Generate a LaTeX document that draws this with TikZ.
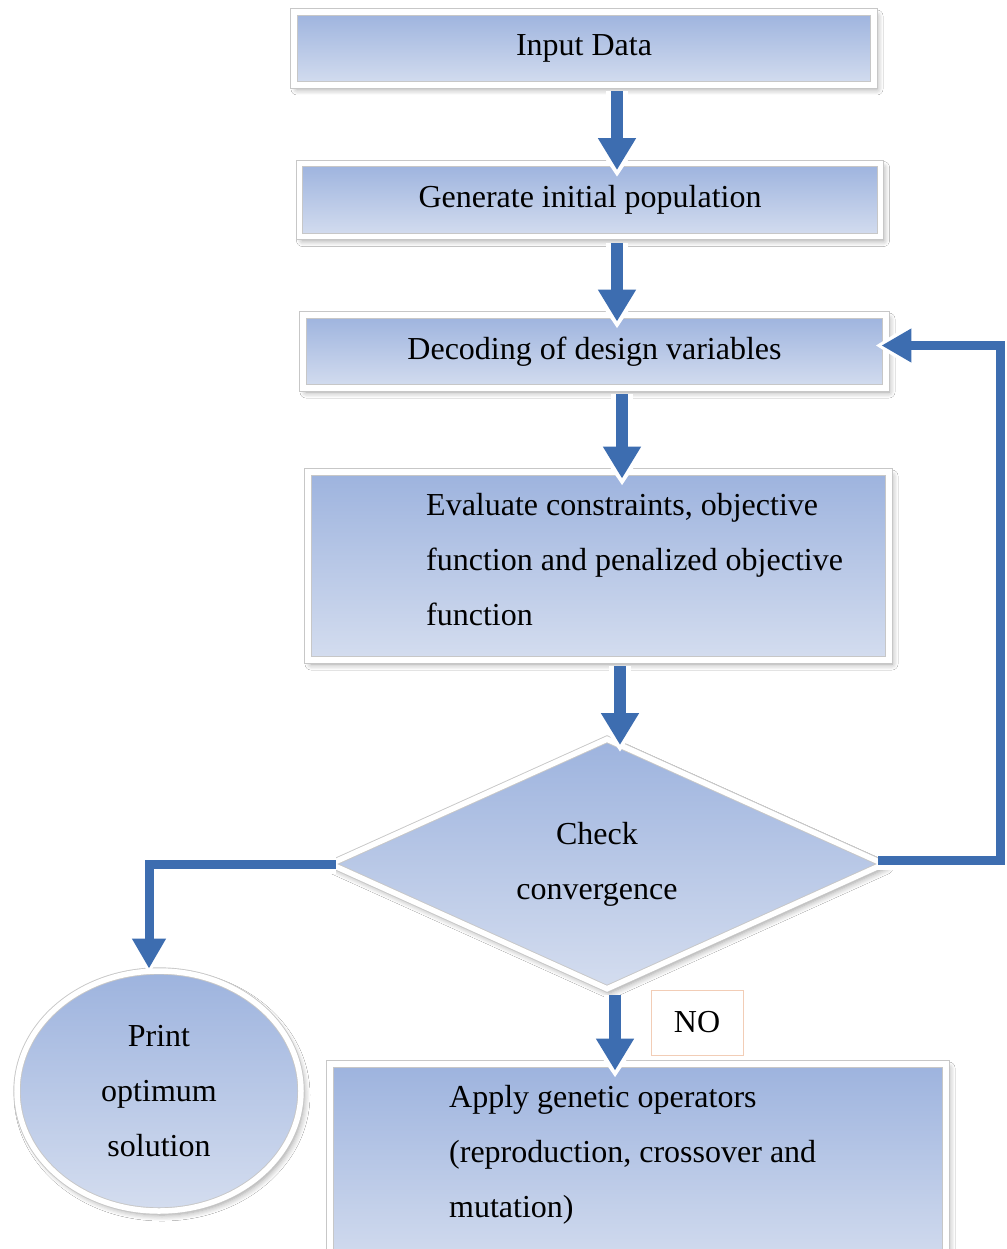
\documentclass[tikz,border=0pt]{standalone}
\usepackage{fontspec}
\setmainfont{Liberation Serif}
\usetikzlibrary{shapes.geometric,shadows.blur,arrows.meta,calc}
\definecolor{boxtop}{HTML}{9DB3DE}
\definecolor{boxbot}{HTML}{D4DDEF}
\definecolor{arrowblue}{HTML}{3D6DB0}
\definecolor{nobox}{HTML}{F2CDB6}
\tikzset{
  shape box/.style={draw=black!22, line width=0.9pt, double=white, double distance=5.5pt,
    top color=boxtop, bottom color=boxbot,
    blur shadow={shadow xshift=3pt, shadow yshift=-4pt, shadow blur steps=6, shadow opacity=40, shadow blur radius=6pt},
    inner sep=0pt, font=\fontsize{32}{55}\selectfont, align=center},
  flowbox/.style={shape box, rectangle},
  txt/.style={font=\fontsize{32}{55}\selectfont, inner sep=0pt},
  arrbg/.style={line width=22pt, draw=white, -{Triangle[width=50pt,length=40pt]}, shorten >=-7pt},
  arrfg/.style={line width=12pt, draw=arrowblue, -{Triangle[width=36pt,length=32pt]}},
  connbg/.style={line width=19pt, draw=white, line join=miter, -{Triangle[width=46pt,length=40pt]}, shorten >=-6pt},
  connfg/.style={line width=9pt, draw=arrowblue, line join=miter, -{Triangle[width=32pt,length=30pt]}},
}
\begin{document}
\begin{tikzpicture}[x=1pt,y=-1pt]
\clip (0,0) rectangle (1006,1249);
\fill[white] (0,0) rectangle (1006,1249);

% boxes
\node[flowbox, minimum width=580pt, minimum height=73pt] (in) at (584,48.5) {Input Data};
\node[flowbox, minimum width=581pt, minimum height=73pt] (gen) at (590,200) {Generate initial population};
\node[flowbox, minimum width=583pt, minimum height=73pt] (dec) at (594.5,351.5) {Decoding of design variables};
\node[flowbox, minimum width=581pt, minimum height=188pt] (ev) at (598.5,566) {};
\node[txt, anchor=north west, align=left] (evt) at (426,493) {Evaluate constraints, objective\\function and penalized objective\\function};
\node[shape box, diamond, minimum width=554pt, minimum height=250pt] (dia) at (607,864) {};
\node[txt, align=center] (diat) at (597,864) {Check\\convergence};
\node[shape box, ellipse, minimum width=284pt, minimum height=240pt] (pr) at (159,1091) {Print\\optimum\\solution};
\node[flowbox, minimum width=616pt, minimum height=206pt] (ap) at (638,1167) {};
\node[txt, anchor=north west, align=left] (apt) at (449,1085) {Apply genetic operators\\(reproduction, crossover and\\mutation)};
\node[draw=nobox, line width=1pt, fill=white, minimum width=92pt, minimum height=65pt, txt] (no) at (697,1022.5) {NO};

% down arrows
\foreach \a/\b/\x in {in/gen/617, gen/dec/617, dec/ev/622, dia/ap/615}{
  \draw[arrbg] (\x,0 |- \a.south) ++(0,6) -- ($(\x,0 |- \b.north)+(0,7)$);
  \draw[arrfg] (\x,0 |- \a.south) ++(0,6) -- ($(\x,0 |- \b.north)+(0,7)$);
}
\coordinate (dtop) at (620,745);
\draw[arrbg] (620,0 |- ev.south) ++(0,6) -- (dtop);
\draw[arrfg] (620,0 |- ev.south) ++(0,6) -- (dtop);

% feedback connector
\coordinate (rc) at (1000,0);
\draw[connbg] ([xshift=-6pt,yshift=4pt]dia.east) -- ([yshift=4pt]dia.east -| rc) -- ([yshift=6pt]dec.east -| rc) -- ([xshift=-5pt,yshift=6pt]dec.east);
\draw[connfg] ([xshift=-6pt,yshift=4pt]dia.east) -- ([yshift=4pt]dia.east -| rc) -- ([yshift=6pt]dec.east -| rc) -- ([xshift=-5pt,yshift=6pt]dec.east);

% left connector
\draw[connbg] ([xshift=6pt]dia.west) -| ([xshift=-10pt,yshift=2pt]pr.north);
\draw[connfg] ([xshift=6pt]dia.west) -| ([xshift=-10pt,yshift=2pt]pr.north);
\end{tikzpicture}
\end{document}
